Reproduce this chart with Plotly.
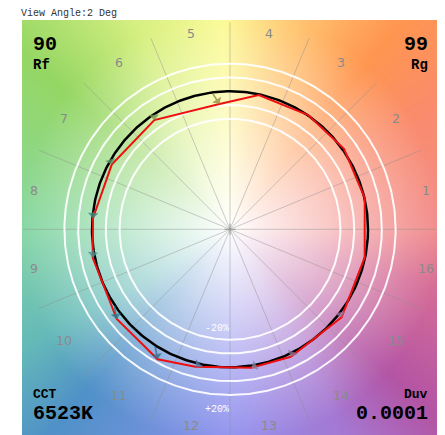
"""TM-30 style colour vector graphic: reference circle, test polygon, hue-bin arrows."""
import numpy as np
import plotly.graph_objects as go

# --- data -----------------------------------------------------------------
bin_labels = [str(i) for i in range(1, 17)]
ref_hue_deg = [12, 34.5, 56, 78.5, 97.5, 123.5, 150, 172, 188, 213, 237, 257, 281.4, 297, 323, 349]
test_hue_deg = [13, 35.2, 55.6, 77.9, 94.8, 124.7, 151.3, 175.4, 191.6, 218.4, 240.9, 255.9, 278.8, 295.5, 321.7, 348.2]
test_chroma = [1.002, 1.011, 1.003, 0.995, 0.911, 0.963, 0.977, 0.996, 1.016, 1.047, 1.078, 1.027, 1.015, 1.023, 1.030, 0.997]
arrow_colors = [
    "rgba(200,110,90,0.75)", "rgba(200,120,100,0.75)", "rgba(205,140,80,0.75)", "rgba(190,150,80,0.75)",
    "rgba(150,140,60,0.8)", "rgba(120,150,80,0.8)", "rgba(90,150,100,0.8)", "rgba(60,140,130,0.8)",
    "rgba(70,150,150,0.8)", "rgba(40,120,140,0.8)", "rgba(50,110,140,0.8)", "rgba(90,120,160,0.8)",
    "rgba(130,130,160,0.8)", "rgba(140,110,140,0.8)", "rgba(160,110,150,0.8)", "rgba(170,110,135,0.8)",
]
rings = [0.8, 0.9, 1.1, 1.2]
metric_rf, metric_rg = "90", "99"
metric_cct, metric_duv = "6523K", "0.0001"
title_text = "View Angle:2 Deg"

# --- geometry / canvas ----------------------------------------------------
OFF = 8  # page body margin in the browser
W, H = 445 - OFF, 435 - OFF
ML, MR, MT, MB = 19 - OFF, 4, 20 - OFF, 0
SX, SY = 140.0, 138.0  # px per unit
pw, ph = W - ML - MR, H - MT - MB
XR = [-(pw / 2) / SX, (pw / 2) / SX]
YR = [-205.7 / SY, 209.3 / SY]

# background hue wheel
hue_stops = [0, 30, 50, 75, 92, 115, 140, 180, 210, 228, 270, 300, 318, 345, 360]
hue_rgb = np.array([
    (242, 140, 140), (250, 140, 110), (255, 150, 80), (255, 205, 120), (252, 250, 150),
    (215, 240, 130), (150, 215, 100), (135, 215, 165), (100, 185, 185), (80, 145, 200),
    (145, 145, 240), (165, 120, 210), (180, 85, 165), (215, 110, 150), (242, 140, 140),
], dtype=float)

xs = XR[0] + (np.arange(pw) + 0.5) * (XR[1] - XR[0]) / pw
ys = YR[0] + (np.arange(ph) + 0.5) * (YR[1] - YR[0]) / ph
gx, gy = np.meshgrid(xs * SX, ys * SY)
ang = np.degrees(np.arctan2(gy, gx)) % 360
rpx = np.hypot(gx, gy)
col = np.stack([np.interp(ang, hue_stops, hue_rgb[:, k]) for k in range(3)], axis=-1)
t = np.clip(rpx / 215.0, 0, 1) ** 1.0
img = 255 - t[..., None] * (255 - col)
img = np.clip(img, 0, 255).astype(np.uint8)

fig = go.Figure()
fig.add_trace(go.Image(z=img, x0=xs[0], dx=xs[1] - xs[0], y0=ys[0], dy=ys[1] - ys[0], hoverinfo="skip"))

# radial bin boundaries
for k in range(16):
    a = np.radians(k * 22.5)
    fig.add_trace(go.Scatter(x=[0, 1.5 * np.cos(a)], y=[0, 1.5 * np.sin(a)], mode="lines",
                             line=dict(color="rgba(140,140,140,0.55)", width=0.8), hoverinfo="skip"))

theta = np.linspace(0, 2 * np.pi, 361)
for r in rings:
    fig.add_trace(go.Scatter(x=r * np.cos(theta), y=r * np.sin(theta), mode="lines",
                             line=dict(color="rgba(255,255,255,0.92)", width=2), hoverinfo="skip"))

# reference circle
fig.add_trace(go.Scatter(x=np.cos(theta), y=np.sin(theta), mode="lines",
                         line=dict(color="black", width=2.5), hoverinfo="skip"))

# test polygon
th = np.radians(test_hue_deg)
tx = np.array(test_chroma) * np.cos(th)
ty = np.array(test_chroma) * np.sin(th)
fig.add_trace(go.Scatter(x=np.append(tx, tx[0]), y=np.append(ty, ty[0]), mode="lines",
                         line=dict(color="#ee1010", width=2), hoverinfo="skip"))

# centre cross
fig.add_trace(go.Scatter(x=[0], y=[0], mode="markers",
                         marker=dict(symbol="cross-thin", size=8, line=dict(color="#999", width=1)),
                         hoverinfo="skip"))

ann = []
rh = np.radians(ref_hue_deg)
for i in range(16):
    ann.append(dict(x=tx[i], y=ty[i], ax=np.cos(rh[i]), ay=np.sin(rh[i]), xref="x", yref="y",
                    axref="x", ayref="y", text="", showarrow=True, arrowhead=1, arrowsize=1.1,
                    arrowwidth=1.6, arrowcolor=arrow_colors[i]))

# bin labels
for i, lab in enumerate(bin_labels):
    a = np.radians(11.25 + 22.5 * i)
    ann.append(dict(x=1.45 * np.cos(a), y=1.45 * np.sin(a), xref="x", yref="y", text=lab,
                    showarrow=False, font=dict(family="DejaVu Sans", size=12.5, color="#8a8a8a")))

ann.append(dict(x=-0.095, y=-0.717, xref="x", yref="y", text="-20%", showarrow=False,
                font=dict(family="Liberation Mono", size=10, color="white")))
ann.append(dict(x=-0.095, y=-1.304, xref="x", yref="y", text="+20%", showarrow=False,
                font=dict(family="Liberation Mono", size=10, color="white")))

mono = "Liberation Mono"


def corner(text, px, py, size, anchor):
    # px, py: position in the final page pixels
    return dict(x=(px - OFF - ML) / pw, y=1 - (py - OFF - MT) / ph, xref="paper", yref="paper",
                text=f"<b>{text}</b>", showarrow=False, xanchor=anchor, yanchor="middle",
                font=dict(family=mono, size=size, color="black"))


ann += [
    corner(metric_rf, 31, 44, 20, "left"), corner("Rf", 31, 65, 14, "left"),
    corner(metric_rg, 430, 44, 20, "right"), corner("Rg", 430, 65, 14, "right"),
    corner("CCT", 31, 394, 13, "left"), corner(metric_cct, 31, 413, 20, "left"),
    corner("Duv", 430, 394, 13, "right"), corner(metric_duv, 430, 413, 20, "right"),
]
ann.append(dict(x=(19 - OFF - ML) / pw, y=1 + 6 / ph, xref="paper", yref="paper", text=title_text,
                showarrow=False, xanchor="left", yanchor="middle",
                font=dict(family=mono, size=10, color="#333")))

fig.update_layout(
    width=W, height=H, margin=dict(l=ML, r=MR, t=MT, b=MB),
    paper_bgcolor="white", plot_bgcolor="white", showlegend=False,
    xaxis=dict(range=XR, visible=False, showgrid=False, zeroline=False, fixedrange=True),
    yaxis=dict(range=YR, visible=False, showgrid=False, zeroline=False, fixedrange=True, autorange=False),
    annotations=ann,
)
fig.write_html("out.html")
